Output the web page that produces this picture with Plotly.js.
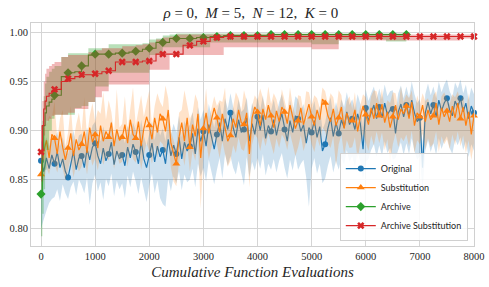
<!DOCTYPE html>
<html><head><meta charset="utf-8">
<script src="https://cdn.plot.ly/plotly-3.0.1.min.js"></script>
<style>html,body{margin:0;padding:0;background:#fff}#chart{width:489px;height:287px}</style>
</head><body><div id="chart"></div>
<script>
// ---- data ----
const evals = [0,50,100,150,200,250,300,350,400,450,500,550,600,650,700,750,800,850,900,950,1000,1050,1100,1150,1200,1250,1300,1350,1400,1450,1500,1550,1600,1650,1700,1750,1800,1850,1900,1950,2000,2050,2100,2150,2200,2250,2300,2350,2400,2450,2500,2550,2600,2650,2700,2750,2800,2850,2900,2950,3000,3050,3100,3150,3200,3250,3300,3350,3400,3450,3500,3550,3600,3650,3700,3750,3800,3850,3900,3950,4000,4050,4100,4150,4200,4250,4300,4350,4400,4450,4500,4550,4600,4650,4700,4750,4800,4850,4900,4950,5000,5050,5100,5150,5200,5250,5300,5350,5400,5450,5500,5550,5600,5650,5700,5750,5800,5850,5900,5950,6000,6050,6100,6150,6200,6250,6300,6350,6400,6450,6500,6550,6600,6650,6700,6750,6800,6850,6900,6950,7000,7050,7100,7150,7200,7250,7300,7350,7400,7450,7500,7550,7600,7650,7700,7750,7800,7850,7900,7950,8000];

const originalMean = [0.869,0.858,0.872,0.861,0.875, 0.866,0.878,0.862,0.871,0.858, 0.852,0.866,0.879,0.860,0.872, 0.874,0.862,0.881,0.870,0.883, 0.887,0.874,0.866,0.882,0.869, 0.876,0.888,0.865,0.879,0.871, 0.875,0.864,0.883,0.872,0.886, 0.878,0.866,0.889,0.871,0.862, 0.875,0.887,0.868,0.884,0.873, 0.880,0.866,0.891,0.874,0.885, 0.876,0.893,0.871,0.888,0.879, 0.884,0.897,0.876,0.902,0.889, 0.899,0.884,0.906,0.893,0.881, 0.896,0.908,0.889,0.912,0.901, 0.918,0.903,0.893,0.911,0.898, 0.901,0.913,0.889,0.907,0.896, 0.914,0.900,0.916,0.892,0.905, 0.899,0.911,0.895,0.908,0.917, 0.901,0.889,0.910,0.898,0.915, 0.912,0.899,0.906,0.887,0.903, 0.898,0.910,0.893,0.904,0.879, 0.886,0.902,0.913,0.894,0.908, 0.897,0.911,0.903,0.919,0.906, 0.912,0.901,0.917,0.907,0.881, 0.923,0.910,0.918,0.926,0.912, 0.924,0.913,0.928,0.916,0.921, 0.922,0.897,0.919,0.927,0.914, 0.926,0.915,0.931,0.918,0.909, 0.913,0.862,0.918,0.929,0.917, 0.926,0.914,0.931,0.920,0.928, 0.933,0.921,0.915,0.930,0.924, 0.933,0.919,0.928,0.912,0.925, 0.918];
const originalLow = [0.800,0.810,0.818,0.826,0.830, 0.832,0.840,0.828,0.845,0.836, 0.830,0.842,0.848,0.834,0.850, 0.844,0.836,0.852,0.824,0.846, 0.855,0.838,0.847,0.829,0.851, 0.843,0.856,0.833,0.849,0.840, 0.846,0.831,0.854,0.842,0.858, 0.848,0.835,0.852,0.839,0.827, 0.844,0.856,0.836,0.849,0.831, 0.825,0.822,0.851,0.838,0.853, 0.846,0.858,0.839,0.855,0.847, 0.850,0.861,0.842,0.866,0.853, 0.862,0.848,0.870,0.856,0.845, 0.860,0.872,0.851,0.876,0.864, 0.874,0.862,0.855,0.869,0.858, 0.844,0.873,0.852,0.868,0.859, 0.872,0.861,0.876,0.854,0.866, 0.860,0.871,0.857,0.869,0.877, 0.862,0.851,0.870,0.859,0.875, 0.860,0.866,0.870,0.852,0.822, 0.861,0.872,0.856,0.866,0.846, 0.851,0.864,0.874,0.857,0.869, 0.860,0.872,0.865,0.880,0.868, 0.874,0.863,0.878,0.868,0.850, 0.868,0.871,0.880,0.886,0.873, 0.885,0.874,0.889,0.877,0.882, 0.870,0.872,0.880,0.888,0.875, 0.887,0.876,0.892,0.879,0.870, 0.874,0.838,0.879,0.890,0.878, 0.887,0.875,0.892,0.881,0.889, 0.894,0.882,0.876,0.891,0.885, 0.893,0.880,0.889,0.873,0.886, 0.879];
const originalHigh = [0.890,0.885,0.893,0.884,0.896, 0.889,0.899,0.884,0.893,0.881, 0.876,0.889,0.900,0.883,0.895, 0.897,0.885,0.903,0.892,0.905, 0.909,0.896,0.889,0.904,0.892, 0.898,0.910,0.887,0.901,0.894, 0.897,0.887,0.905,0.895,0.908, 0.900,0.889,0.911,0.894,0.885, 0.897,0.909,0.890,0.906,0.895, 0.902,0.889,0.913,0.896,0.907, 0.898,0.915,0.893,0.910,0.901, 0.906,0.919,0.898,0.924,0.911, 0.921,0.906,0.927,0.915,0.903, 0.918,0.929,0.911,0.933,0.922, 0.938,0.924,0.915,0.932,0.919, 0.922,0.934,0.911,0.928,0.918, 0.934,0.921,0.936,0.914,0.926, 0.920,0.932,0.917,0.929,0.937, 0.922,0.911,0.931,0.919,0.935, 0.932,0.920,0.927,0.909,0.924, 0.919,0.930,0.914,0.925,0.901, 0.908,0.923,0.934,0.915,0.929, 0.918,0.932,0.924,0.939,0.926, 0.932,0.922,0.937,0.927,0.903, 0.942,0.930,0.938,0.945,0.932, 0.943,0.932,0.947,0.935,0.940, 0.941,0.918,0.938,0.946,0.933, 0.945,0.934,0.950,0.937,0.928, 0.932,0.884,0.937,0.948,0.936, 0.945,0.933,0.950,0.939,0.947, 0.952,0.940,0.934,0.949,0.943, 0.952,0.938,0.947,0.931,0.944, 0.937];

const substitutionMean = [0.855,0.878,0.890,0.872,0.896, 0.892,0.876,0.899,0.883,0.870, 0.882,0.897,0.874,0.891,0.880, 0.886,0.899,0.877,0.903,0.888, 0.896,0.882,0.905,0.889,0.899, 0.893,0.908,0.884,0.901,0.890, 0.893,0.906,0.887,0.911,0.896, 0.892,0.909,0.884,0.902,0.914, 0.905,0.891,0.913,0.898,0.917, 0.912,0.899,0.921,0.887,0.876, 0.866,0.893,0.908,0.889,0.913, 0.883,0.906,0.894,0.917,0.872, 0.902,0.918,0.897,0.911,0.923, 0.913,0.898,0.917,0.904,0.889, 0.895,0.912,0.903,0.921,0.908, 0.906,0.918,0.876,0.913,0.924, 0.919,0.905,0.922,0.911,0.926, 0.915,0.903,0.920,0.909,0.924, 0.919,0.907,0.926,0.914,0.902, 0.910,0.923,0.906,0.918,0.927, 0.914,0.905,0.921,0.911,0.932, 0.928,0.915,0.909,0.922,0.905, 0.913,0.924,0.902,0.918,0.909, 0.910,0.921,0.899,0.914,0.925, 0.916,0.906,0.923,0.912,0.928, 0.915,0.927,0.908,0.919,0.903, 0.914,0.926,0.911,0.922,0.917, 0.925,0.912,0.929,0.905,0.918, 0.914,0.926,0.909,0.921,0.911, 0.915,0.928,0.906,0.923,0.914, 0.920,0.909,0.925,0.913,0.928, 0.912,0.924,0.905,0.919,0.896, 0.915];
const substitutionLow = [0.835,0.850,0.862,0.855,0.868, 0.866,0.857,0.870,0.861,0.849, 0.860,0.872,0.852,0.866,0.858, 0.863,0.874,0.855,0.877,0.864, 0.872,0.859,0.879,0.865,0.874, 0.869,0.881,0.861,0.876,0.866, 0.868,0.880,0.863,0.884,0.871, 0.867,0.882,0.860,0.876,0.887, 0.879,0.866,0.886,0.872,0.889, 0.886,0.873,0.893,0.862,0.848, 0.843,0.867,0.881,0.864,0.886, 0.858,0.879,0.869,0.889,0.820, 0.876,0.890,0.871,0.884,0.895, 0.886,0.872,0.889,0.877,0.863, 0.869,0.885,0.877,0.893,0.881, 0.879,0.890,0.842,0.886,0.896, 0.892,0.879,0.894,0.884,0.897, 0.887,0.876,0.892,0.882,0.896, 0.891,0.880,0.897,0.886,0.874, 0.883,0.895,0.879,0.890,0.898, 0.886,0.878,0.893,0.884,0.903, 0.899,0.887,0.882,0.894,0.864, 0.886,0.896,0.875,0.890,0.882, 0.883,0.893,0.871,0.887,0.897, 0.888,0.879,0.895,0.885,0.899, 0.887,0.898,0.880,0.891,0.867, 0.886,0.897,0.883,0.893,0.889, 0.896,0.884,0.900,0.877,0.890, 0.886,0.897,0.881,0.892,0.883, 0.887,0.899,0.878,0.894,0.886, 0.891,0.881,0.896,0.885,0.899, 0.884,0.895,0.877,0.890,0.870, 0.887];
const substitutionHigh = [0.872,0.902,0.905,0.915,0.912, 0.930,0.890,0.912,0.921,0.884, 0.898,0.925,0.889,0.906,0.918, 0.899,0.934,0.893,0.915,0.928, 0.909,0.921,0.917,0.939,0.911, 0.931,0.919,0.897,0.942,0.903, 0.907,0.935,0.901,0.923,0.944, 0.905,0.921,0.936,0.914,0.926, 0.941,0.904,0.925,0.938,0.929, 0.924,0.946,0.933,0.899,0.890, 0.880,0.918,0.921,0.941,0.925, 0.912,0.918,0.937,0.929,0.886, 0.915,0.943,0.910,0.924,0.935, 0.925,0.931,0.929,0.944,0.902, 0.908,0.924,0.939,0.933,0.920, 0.941,0.930,0.889,0.925,0.936, 0.931,0.943,0.934,0.923,0.945, 0.927,0.938,0.932,0.921,0.942, 0.931,0.919,0.944,0.926,0.915, 0.936,0.935,0.918,0.940,0.939, 0.926,0.936,0.933,0.923,0.944, 0.940,0.927,0.938,0.934,0.917, 0.941,0.936,0.915,0.930,0.935, 0.922,0.939,0.911,0.926,0.937, 0.934,0.918,0.935,0.941,0.940, 0.927,0.943,0.920,0.931,0.928, 0.939,0.938,0.923,0.945,0.929, 0.937,0.933,0.941,0.917,0.936, 0.926,0.938,0.930,0.933,0.923, 0.936,0.940,0.918,0.935,0.939, 0.932,0.927,0.937,0.934,0.940, 0.930,0.936,0.917,0.938,0.909, 0.927];

const archEvals = [0,25,50,75,100,150,200,250,375,500,625,750,875,1000,1125,1250,1375,1500,1625,1750,1875,2000,2125,2250,2375,2500,2625,2750,2875,3000,3125,3250,3375,3500,3625,3750,3875,4000,4125,4250,4375,4500,4625,4750,4875,5000,5125,5250,5375,5500,5625,5750,5875,6000,6125,6250,6375,6500,6625,6750,6875,7000,7125,7250,7375,7500,7625,7750,7875,8000];

const archiveMean = [0.835,0.880,0.905,0.918,0.925,0.929,0.932,0.936, 0.955,0.959,0.960,0.966,0.977,0.978,0.978,0.978,0.979,0.979,0.980,0.981,0.983,0.984,0.990,0.990,0.994,0.994,0.994,0.994,0.995,0.995,0.996,0.996,0.997,0.997,0.997,0.997,0.997,0.997,0.997,0.998, 0.998,0.998,0.998,0.998,0.998,0.998,0.998,0.998,0.998,0.998,0.998,0.998,0.998,0.998,0.998,0.998,0.998,0.998,0.998,0.998];
const archiveLow = [0.792,0.815,0.840,0.860,0.880,0.900,0.912,0.916, 0.916,0.916,0.923,0.925,0.929,0.945,0.945,0.959,0.959,0.959,0.959,0.959,0.959,0.977,0.977,0.985,0.985,0.985,0.985,0.985,0.985,0.985, 0.990,0.990,0.990,0.990,0.990,0.990,0.990,0.990,0.990,0.990,0.990,0.990,0.990,0.990,0.990, 0.988,0.988,0.988,0.988, 0.993,0.993,0.993,0.993,0.993,0.993,0.993, 0.991,0.991,0.991,0.991];
const archiveHigh = [0.870,0.910,0.935,0.948,0.955,0.960,0.963,0.966, 0.975,0.979,0.979,0.979,0.984,0.984,0.984,0.988,0.988,0.988,0.988,0.988,0.989,0.993,0.994,0.997,0.998, 0.999,0.999,0.999,0.999,0.999,0.999,0.999,0.999,0.999,0.999,0.999,0.999,0.999,0.999,0.999,0.999,0.999,0.999,0.999,0.999,0.999,0.999,0.999,0.999,0.999,0.999,0.999,0.999,0.999,0.999,0.999,0.999,0.999,0.999,0.999];

const archSubMean = [0.878,0.905,0.922,0.930,0.935,0.938,0.940,0.942, 0.950,0.953,0.955,0.957,0.957,0.958,0.960,0.961,0.970,0.970,0.970,0.970,0.971,0.971,0.978,0.978,0.978,0.978,0.987,0.987,0.991,0.991,0.995,0.995, 0.996,0.996,0.996,0.996,0.996,0.996,0.996,0.996,0.996,0.996,0.996,0.996,0.996,0.996,0.996,0.996,0.996,0.996,0.996,0.996,0.996,0.996,0.996,0.996,0.996,0.996,0.996,0.996,0.996,0.996,0.996,0.996,0.996,0.996,0.996,0.996,0.996,0.996];
const archSubLow = [0.848,0.870,0.895,0.905,0.910,0.912,0.915,0.916, 0.916,0.918,0.922,0.922,0.929,0.934,0.940,0.947,0.947,0.947,0.947,0.947,0.947,0.962,0.962,0.962,0.977,0.977,0.977,0.977,0.977,0.977,0.977,0.977, 0.985,0.985,0.985,0.985,0.985,0.985,0.985,0.985,0.985,0.985,0.985,0.985,0.985, 0.983,0.983,0.983,0.983, 0.992,0.992,0.992,0.992,0.992,0.992,0.992,0.992,0.992,0.992,0.992,0.992,0.992,0.992,0.992,0.992,0.992,0.992, 0.994,0.994,0.994];
const archSubHigh = [0.905,0.930,0.950,0.958,0.963,0.966,0.968,0.970, 0.975,0.977,0.977,0.977,0.980,0.982,0.984,0.984,0.984,0.986,0.986,0.987,0.988,0.990,0.993,0.995,0.996, 0.998,0.998,0.998,0.998,0.998,0.998,0.998,0.998,0.998,0.998,0.998,0.998,0.998,0.998,0.998,0.998,0.998,0.998,0.998,0.998,0.998,0.998,0.998,0.998,0.998,0.998,0.998,0.998,0.998,0.998,0.998,0.998,0.998,0.998,0.998,0.998,0.998,0.998,0.998,0.998,0.998,0.998,0.998,0.998,0.998];

const seriesNames = ['Original','Substitution','Archive','Archive Substitution'];
const xTicks = [0,1000,2000,3000,4000,5000,6000,7000,8000];
const yTicks = [0.80,0.85,0.90,0.95,1.00];

// ---- drawing ----
const C = {blue:'#1f77b4', orange:'#ff7f0e', green:'#2ca02c', red:'#d62728'};
function band(x, lo, hi, fill, shape){
  return [
    {x:x, y:lo, mode:'lines', line:{width:0, shape:shape}, showlegend:false, hoverinfo:'skip'},
    {x:x, y:hi, mode:'lines', line:{width:0, shape:shape}, fill:'tonexty', fillcolor:fill, showlegend:false, hoverinfo:'skip'}
  ];
}
function lineAndMarks(x, y, color, symbol, size, lw, shape){
  const idx = [];
  x.forEach(function(v,i){ if (v % 250 === 0) idx.push(i); });
  return [
    {x:x, y:y, mode:'lines', line:{color:color, width:lw, shape:shape}, showlegend:false},
    {x:idx.map(i=>x[i]), y:idx.map(i=>y[i]), mode:'markers', cliponaxis:false,
     marker:{color:color, symbol:symbol, size:size}, showlegend:false}
  ];
}
function legendItem(name, color, symbol, size, lw){
  return {x:[null], y:[null], name:name, mode:'lines+markers', line:{color:color, width:lw}, marker:{color:color, symbol:symbol, size:size}};
}
const xa = archEvals.slice(0, archiveMean.length);
const data = [].concat(
  band(evals, originalLow, originalHigh, 'rgba(31,119,180,0.22)', 'linear'),
  lineAndMarks(evals, originalMean, C.blue, 'circle', 6, 1.2, 'linear'),
  band(evals, substitutionLow, substitutionHigh, 'rgba(255,127,14,0.22)', 'linear'),
  lineAndMarks(evals, substitutionMean, C.orange, 'triangle-up', 7, 1.2, 'linear'),
  band(xa, archiveLow, archiveHigh, 'rgba(44,160,44,0.33)', 'hv'),
  lineAndMarks(xa, archiveMean, C.green, 'diamond', 7, 1.1, 'hv'),
  band(archEvals, archSubLow, archSubHigh, 'rgba(214,39,40,0.33)', 'hv'),
  lineAndMarks(archEvals, archSubMean, C.red, 'x', 6.5, 1.1, 'hv'),
  [legendItem(seriesNames[0], C.blue, 'circle', 6, 1.2),
   legendItem(seriesNames[1], C.orange, 'triangle-up', 7, 1.2),
   legendItem(seriesNames[2], C.green, 'diamond', 7, 1.1),
   legendItem(seriesNames[3], C.red, 'x', 6.5, 1.1)]
);

const serif = 'Liberation Serif, DejaVu Serif, serif';
const layout = {
  width:489, height:287,
  margin:{l:31, r:15, t:23, b:41, pad:0},
  paper_bgcolor:'#fff', plot_bgcolor:'#fff',
  font:{family:serif, color:'#262626', size:10.5},
  title:{text:'<i>ρ</i> = 0,  <i>M</i> = 5,  <i>N</i> = 12,  <i>K</i> = 0', x:0.513, xanchor:'center', y:0.955, yanchor:'middle', font:{family:serif, size:15, color:'#262626'}},
  xaxis:{range:[-185,8000], tickvals:xTicks, ticktext:xTicks.map(String), showgrid:true, gridcolor:'#d5d5d5', gridwidth:1,
         zeroline:false, showline:true, mirror:true, linecolor:'#d0d0d0', linewidth:1, ticks:'',
         title:{text:'<i>Cumulative Function Evaluations</i>', font:{family:serif, size:15, color:'#262626'}, standoff:5}},
  yaxis:{range:[0.782,1.0098], tickvals:yTicks, ticktext:yTicks.map(v=>v.toFixed(2)), showgrid:true, gridcolor:'#d5d5d5', gridwidth:1,
         zeroline:false, showline:true, mirror:true, linecolor:'#d0d0d0', linewidth:1, ticks:''},
  showlegend:true,
  legend:{x:0.986, xanchor:'right', y:0.022, yanchor:'bottom', traceorder:'normal', bgcolor:'rgba(255,255,255,0.85)', bordercolor:'#d0d0d0', borderwidth:1,
          font:{family:'Lato, Liberation Sans, sans-serif', size:9, color:'#262626'}, itemwidth:30, tracegroupgap:0}
};
Plotly.newPlot('chart', data, layout, {staticPlot:true, displayModeBar:false});
</script>
</body></html>
